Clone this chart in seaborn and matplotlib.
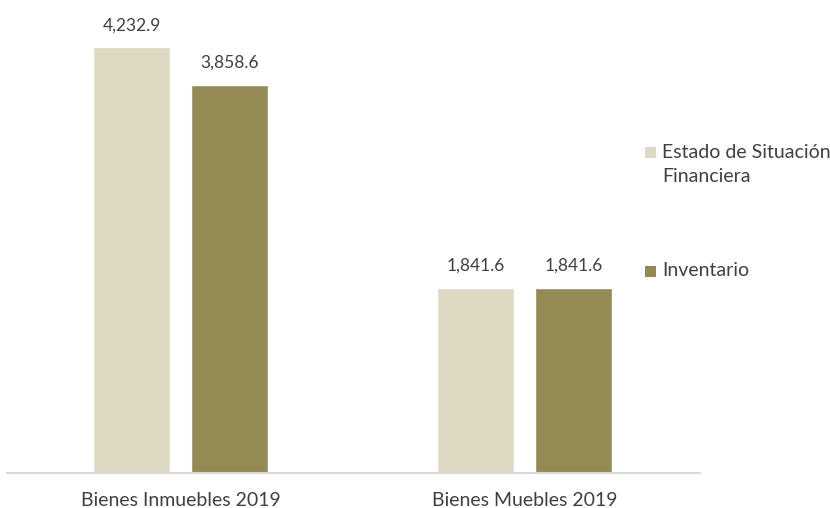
import pandas as pd
import matplotlib.pyplot as plt
from matplotlib.patches import Rectangle
import seaborn as sns

# values (millions)
categories = ["Bienes Inmuebles 2019", "Bienes Muebles 2019"]
series_names = ["Estado de Situación\nFinanciera", "Inventario"]
estado_vals = [4232.9, 1841.6]
inventario_vals = [3858.6, 1841.6]
colors = ["#DDD9C3", "#948A54"]
text_color = "#404040"

df = pd.DataFrame({
    "Categoria": categories * 2,
    "Serie": [series_names[0]] * 2 + [series_names[1]] * 2,
    "Valor": estado_vals + inventario_vals,
})

sns.set_style("white")
plt.rcParams["font.family"] = ["Lato", "DejaVu Sans"]

fig = plt.figure(figsize=(8.3, 5.08), dpi=100)
ax = fig.add_axes([0.0084, 0.0689, 0.835, 0.891])

sns.barplot(data=df, x="Categoria", y="Valor", hue="Serie", palette=colors,
            width=0.57, gap=0.21, saturation=1, ax=ax, legend=False)

for cont in ax.containers:
    ax.bar_label(cont, labels=[f"{v:,.1f}" for v in cont.datavalues],
                 padding=10, fontsize=12.5, color=text_color)

ax.set_xlim(-0.505, 1.51)
ax.set_ylim(0, 4500)
ax.set_xlabel("")
ax.set_ylabel("")
ax.set_yticks([])
ax.tick_params(axis="x", length=0, pad=14, labelsize=14, labelcolor=text_color)
for s in ["top", "right", "left"]:
    ax.spines[s].set_visible(False)
ax.spines["bottom"].set_color("#D9D9D9")
ax.spines["bottom"].set_linewidth(1.5)

# legend drawn by hand: square aligned with the first line of each label
W, H = 830, 508
legend_rows = [152, 271]
for name, col, y in zip(series_names, colors, legend_rows):
    fig.patches.append(Rectangle((645 / W, 1 - (y + 5.5) / H), 11 / W, 11 / H,
                                 transform=fig.transFigure, facecolor=col,
                                 edgecolor="none"))
    for i, line in enumerate(name.split("\n")):
        fig.text(662 / W, 1 - (y + 25 * i) / H, line, va="center", ha="left",
                 fontsize=14, color=text_color)

fig.savefig("out.png", dpi=100)
